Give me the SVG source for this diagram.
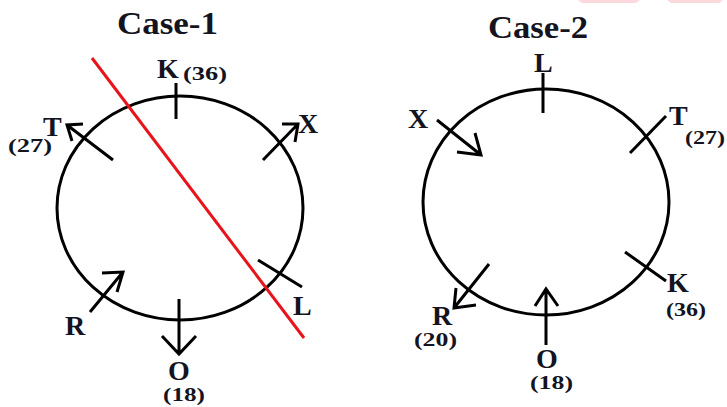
<svg xmlns="http://www.w3.org/2000/svg" width="727" height="407" viewBox="0 0 727 407">
<style>
.c{fill:none;stroke:#000;stroke-width:3}
.l{fill:none;stroke:#000;stroke-width:3;stroke-linecap:butt;stroke-linejoin:miter}
.t{font-family:"Liberation Serif","DejaVu Serif",serif;font-weight:bold;fill:#141420}
.h{font-size:31px}
.b{font-size:28px}
.s{font-size:19px}
</style>
<rect width="727" height="407" fill="#fff"/>
<path d="M578 0 H640 L636 3 H582 Z M667 0 H723 L719 3 H671 Z" fill="#fcd9dc"/>
<text class="t h" x="117" y="34" textLength="101" lengthAdjust="spacingAndGlyphs">Case-1</text>
<text class="t h" x="488" y="38" textLength="100" lengthAdjust="spacingAndGlyphs">Case-2</text>
<g id="case1-circle"><ellipse class="c" cx="180" cy="208" rx="123" ry="112"/></g>
<g id="case2-circle"><ellipse class="c" cx="546" cy="202" rx="123" ry="113"/></g>
<g id="connectors">
<line x1="92" y1="58" x2="304" y2="338" stroke="#e8141c" stroke-width="3"/>
<!-- case 1 -->
<line class="l" x1="176" y1="83" x2="176" y2="119"/>
<path class="l" d="M113 160 L67 125 M83 124 L67 125 L72 141"/>
<path class="l" d="M263 160 L298 124 M282 124 L298 124 L295 142"/>
<line class="l" x1="258" y1="260" x2="302" y2="287"/>
<path class="l" d="M90 312 L123 272 M102 273 L123 272 L117 292"/>
<path class="l" d="M179 299 L179 354 M162 336 L179 354 L196 336"/>
<!-- case 2 -->
<line class="l" x1="543" y1="73" x2="543" y2="113"/>
<path class="l" d="M437 120 L481 155 M457 152 L481 155 L475 133"/>
<line class="l" x1="630" y1="153" x2="666" y2="116"/>
<line class="l" x1="625" y1="252" x2="666" y2="281"/>
<path class="l" d="M489 264 L454 308 M476 305 L454 308 L456 288"/>
<path class="l" d="M546 345 L546 289 M535 306 L546 289 L558 306"/>
</g>
<g id="c1-K"><text class="t b" x="157" y="78">K</text><text class="t s" x="183" y="80" textLength="44" lengthAdjust="spacingAndGlyphs">(36)</text></g>
<g id="c1-T"><text class="t b" x="43" y="136">T</text><text class="t s" x="8" y="152" textLength="44" lengthAdjust="spacingAndGlyphs">(27)</text></g>
<g id="c1-X"><text class="t b" x="298" y="133">X</text></g>
<g id="c1-L"><text class="t b" x="293" y="315">L</text></g>
<g id="c1-R"><text class="t b" x="65" y="335">R</text></g>
<g id="c1-O"><text class="t b" x="179" y="380" text-anchor="middle">O</text><text class="t s" x="163" y="401" textLength="42" lengthAdjust="spacingAndGlyphs">(18)</text></g>
<g id="c2-L"><text class="t b" x="534" y="72">L</text></g>
<g id="c2-X"><text class="t b" x="408" y="128">X</text></g>
<g id="c2-T"><text class="t b" x="669" y="125">T</text><text class="t s" x="685" y="144" textLength="40" lengthAdjust="spacingAndGlyphs">(27)</text></g>
<g id="c2-K"><text class="t b" x="667" y="292">K</text><text class="t s" x="666" y="316" textLength="40" lengthAdjust="spacingAndGlyphs">(36)</text></g>
<g id="c2-R"><text class="t b" x="432" y="325">R</text><text class="t s" x="414" y="346" textLength="43" lengthAdjust="spacingAndGlyphs">(20)</text></g>
<g id="c2-O"><text class="t b" x="547" y="368" text-anchor="middle">O</text><text class="t s" x="530" y="389" textLength="43" lengthAdjust="spacingAndGlyphs">(18)</text></g>
</svg>
